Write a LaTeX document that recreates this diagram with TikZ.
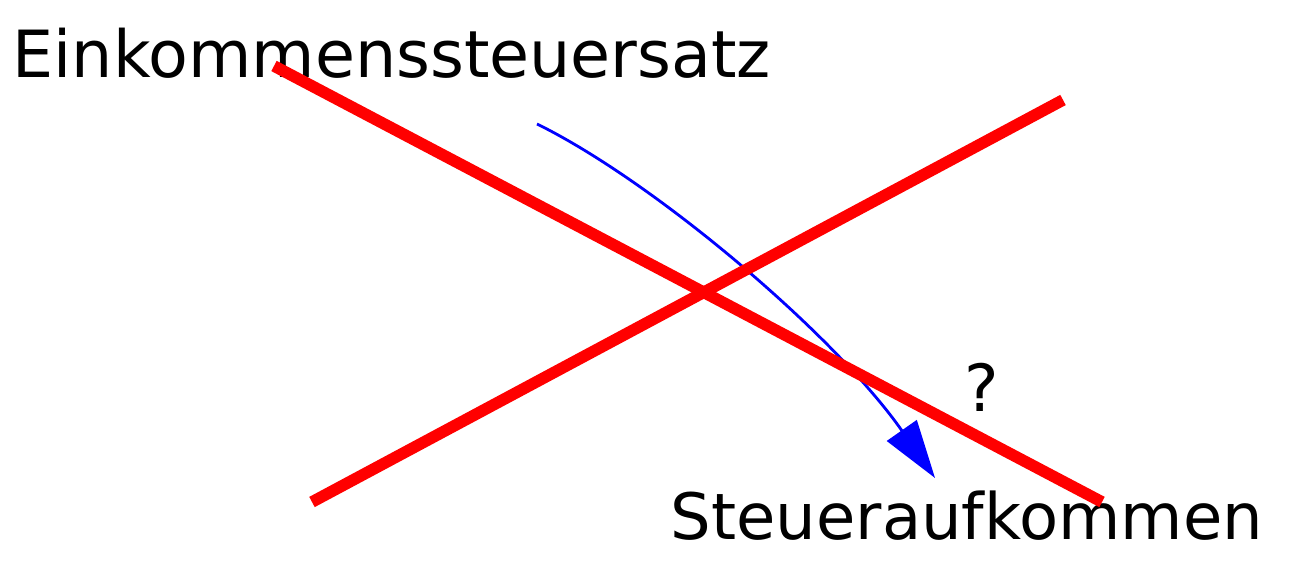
\documentclass[tikz,border=0pt]{standalone}
\usepackage{fontspec}
\setmainfont{DejaVu Sans}
\usetikzlibrary{arrows.meta, positioning}
\tikzset{
  beschriftung/.style={inner sep=0pt, anchor=base west, font=\fontsize{18.5}{22}\selectfont},
  kreuz/.style={draw=red, line width=3.3pt},
  pfeil/.style={draw=blue, line width=0.8pt, -{Triangle[length=5.8mm, width=3.6mm]}, fill=none},
}

\begin{document}
\begin{tikzpicture}[x=0.01cm, y=-0.01cm]
  \useasboundingbox (0,0) rectangle (1303,565);
  % Texte
  \node[beschriftung] (satz) at (12,78) {Einkommenssteuersatz};
  \node[beschriftung, font=\fontsize{18.2}{22}\selectfont] (aufkommen) at (670,540) {Steueraufkommen};
  \node[beschriftung] (frage) at (964,412) {?};
  % Pfeil vom Steuersatz zum Aufkommen
  \coordinate (von) at (537,124);
  \coordinate (nach) at (935,478);
  \draw[pfeil] (von) .. controls (655,182) and (835,335) .. (nach);
  % rotes Kreuz darueber
  \coordinate (k1a) at (274,66);
  \coordinate (k1b) at (1102,502);
  \coordinate (k2a) at (312,502);
  \coordinate (k2b) at (1063,100);
  \draw[kreuz] (k1a) -- (k1b);
  \draw[kreuz] (k2a) -- (k2b);
\end{tikzpicture}
\end{document}
